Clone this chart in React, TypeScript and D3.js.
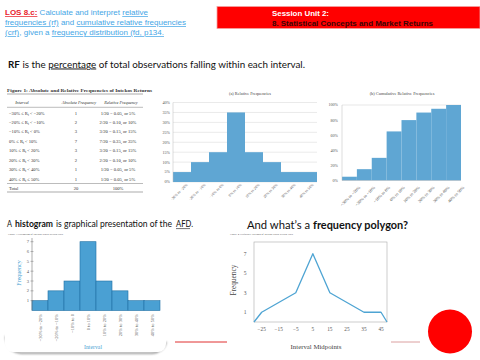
import React from "react";
import * as d3 from "d3";

const intervals = ["−30% to −20%", "−20% to −10%", "−10% to 0%", "0% to 10%", "10% to 20%", "20% to 30%", "30% to 40%", "40% to 50%"];
const histLabels = ["−30% to −20%", "−20% to −10%", "−10% to 0", "0 to 10%", "10% to 20%", "20% to 30%", "30% to 40%", "40% to 50%"];
const absFreq = [1, 2, 3, 7, 3, 2, 1, 1];
const relFreq = [5, 10, 15, 35, 15, 10, 5, 5];
const cumFreq = [5, 15, 30, 65, 80, 90, 95, 100];
const tableLower = ["−30%", "−20%", "−10%", "0%", "10%", "20%", "30%", "40%"];
const tableUpper = ["−20%", "−10%", "0%", "10%", "20%", "30%", "40%", "50%"];
const tableUpperOp = ["<", "<", "<", "<", "<", "<", "<", "≤"];
const relFreqText = ["1/20 = 0.05, or 5%", "2/20 = 0.10, or 10%", "3/20 = 0.15, or 15%", "7/20 = 0.35, or 35%", "3/20 = 0.15, or 15%", "2/20 = 0.10, or 10%", "1/20 = 0.05, or 5%", "1/20 = 0.05, or 5%"];
const relTicks = [0, 5, 10, 15, 20, 25, 30, 35, 40];
const cumTicks = [0, 20, 40, 60, 80, 100];
const histTicks = [1, 2, 3, 4, 5, 6, 7];
const midpoints = [-25, -15, -5, 5, 15, 25, 35, 45];
const polyEdges = [-29.5, 48.5];
const polyYTicks = [1, 3, 5, 7];

const SERIF = "'Liberation Serif', 'DejaVu Serif', serif";
const SANS = "'Liberation Sans', Arial, sans-serif";
const SLIDE = "Lato, 'Open Sans', sans-serif";
const LINK = "#45a6e6";

export default function App() {
  // chart (a)
  const xA = d3.scaleBand<string>().domain(intervals).range([173, 317]).padding(0);
  const yA = d3.scaleLinear().domain([0, 40]).range([182, 102.5]);
  // chart (b)
  const xB = d3.scaleBand<string>().domain(intervals).range([342, 461]).padding(0);
  const yB = d3.scaleLinear().domain([0, 100]).range([180.5, 105]);
  // histogram
  const xH = d3.scaleBand<string>().domain(histLabels).range([32, 160]).padding(0);
  const yH = d3.scaleLinear().domain([0, 7]).range([310.5, 241.7]);
  // polygon
  const xP = d3.scaleLinear().domain(polyEdges).range([254, 387]);
  const yP = d3.scaleLinear().domain([0, 8.2]).range([322, 242]);
  const polyPts: [number, number][] = [
    [polyEdges[0], 0],
    ...midpoints.map((m, i) => [m, absFreq[i]] as [number, number]),
    [polyEdges[1], 0],
  ];
  const line = d3.line<[number, number]>().x((d) => xP(d[0])).y((d) => yP(d[1]));

  const rowY = d3.scaleLinear().domain([0, 7]).range([113, 179]);

  return (
    <svg width={480} height={360} style={{ position: "absolute", left: 0, top: 0, background: "#fff" }}>
      <defs>
        <filter id="blur" x="-20%" y="-20%" width="140%" height="140%">
          <feGaussianBlur stdDeviation="1.2" />
        </filter>
      </defs>
      <rect x={0} y={0} width={480} height={360} fill="#fff" />

      {/* header left */}
      <g fontFamily={SANS} fontSize={7.3}>
        <text x={5} y={15} textLength={143} lengthAdjust="spacingAndGlyphs">
          <tspan fill="#e8202a" fontWeight="bold" textDecoration="underline">LOS 8.c:</tspan>
          <tspan fill={LINK}> Calculate and interpret </tspan>
          <tspan fill={LINK} textDecoration="underline">relative</tspan>
        </text>
        <text x={5} y={25} textLength={181} lengthAdjust="spacingAndGlyphs">
          <tspan fill={LINK} textDecoration="underline">frequencies (rf)</tspan>
          <tspan fill={LINK}> and </tspan>
          <tspan fill={LINK} textDecoration="underline">cumulative relative frequencies</tspan>
        </text>
        <text x={5} y={35} textLength={159} lengthAdjust="spacingAndGlyphs">
          <tspan fill={LINK} textDecoration="underline">(crf)</tspan>
          <tspan fill={LINK}>, given a </tspan>
          <tspan fill={LINK} textDecoration="underline">frequency distribution (fd, p134.</tspan>
        </text>
      </g>
      {/* header right */}
      <rect x={217} y={6.5} width={263} height={22} fill="#ff0000" stroke="#f4a0a0" strokeWidth={0.8} />
      <g fontFamily={SANS} fontWeight="bold" fontSize={7}>
        <text x={272} y={15.5} fill="#fff" textLength={57} lengthAdjust="spacingAndGlyphs">Session Unit 2:</text>
        <text x={272} y={25.5} fill="#3a0606" textLength={161} lengthAdjust="spacingAndGlyphs">8. Statistical Concepts and Market Returns</text>
      </g>

      {/* RF statement */}
      <text x={8} y={67.5} fontFamily={SLIDE} fontSize={9.5} fill="#111" textLength={297} lengthAdjust="spacingAndGlyphs">
        <tspan fontWeight="bold">RF</tspan>
        <tspan> is the </tspan>
        <tspan textDecoration="underline">percentage</tspan>
        <tspan> of total observations falling within each interval.</tspan>
      </text>

      {/* table */}
      <g fontFamily={SERIF} fill="#333">
        <text x={7} y={91.5} fontSize={4.9} fontWeight="bold" textLength={145} lengthAdjust="spacingAndGlyphs">Figure 1: Absolute and Relative Frequencies of Intekos Returns</text>
        <line x1={7} x2={143} y1={94} y2={94} stroke="#555" strokeWidth={0.5} />
        <g fontSize={4.3} fontStyle="italic" textAnchor="middle">
          <text x={22} y={104}>Interval</text>
          <text x={79} y={104}>Absolute Frequency</text>
          <text x={121} y={104}>Relative Frequency</text>
        </g>
        <line x1={7} x2={143} y1={107.3} y2={107.3} stroke="#555" strokeWidth={0.4} />
        {tableLower.map((lo, i) => (
          <g key={i} fontSize={4.6}>
            <text x={9} y={rowY(i) + 1.5}>
              <tspan>{lo} ≤ R</tspan>
              <tspan fontSize={3} dy={1}>t</tspan>
              <tspan dy={-1}>{` ${tableUpperOp[i]} ${tableUpper[i]}`}</tspan>
            </text>
            <text x={76} y={rowY(i) + 1.5} textAnchor="middle">{absFreq[i]}</text>
            <text x={118} y={rowY(i) + 1.5} textAnchor="middle">{relFreqText[i]}</text>
          </g>
        ))}
        <line x1={7} x2={143} y1={183.5} y2={183.5} stroke="#555" strokeWidth={0.4} />
        <g fontSize={4.6}>
          <text x={9} y={189.5}>Total</text>
          <text x={76} y={189.5} textAnchor="middle">{d3.sum(absFreq)}</text>
          <text x={118} y={189.5} textAnchor="middle">{d3.sum(relFreq)}%</text>
        </g>
        <line x1={7} x2={143} y1={192} y2={192} stroke="#555" strokeWidth={0.5} />
      </g>

      {/* chart (a) */}
      <g fontFamily={SERIF} fill="#555">
        <text x={250} y={95} fontSize={4.3} textAnchor="middle" fill="#444">(a) Relative Frequencies</text>
        {relTicks.map((t) => (
          <g key={t}>
            <line x1={173} x2={317} y1={yA(t)} y2={yA(t)} stroke="#d4d4d4" strokeWidth={0.5} />
            <text x={170} y={yA(t) + 1.4} fontSize={4.1} textAnchor="end">{t}%</text>
          </g>
        ))}
        {intervals.map((c, i) => (
          <rect key={c} x={xA(c)} y={yA(relFreq[i])} width={xA.bandwidth()} height={yA(0) - yA(relFreq[i])} fill="#5fa6d3" />
        ))}
        <line x1={173} x2={173} y1={102.5} y2={182} stroke="#bbb" strokeWidth={0.5} />
        {intervals.map((c) => (
          <text key={c} transform={`translate(${(xA(c) as number) + xA.bandwidth() / 2 + 6},${185}) rotate(-45)`} fontSize={3.8} textAnchor="end">{c}</text>
        ))}
      </g>

      {/* chart (b) */}
      <g fontFamily={SERIF} fill="#555">
        <text x={402} y={95} fontSize={4.4} textAnchor="middle" fill="#444">(b) Cumulative Relative Frequencies</text>
        {cumTicks.map((t) => (
          <text key={t} x={338} y={yB(t) + 1.4} fontSize={4.1} textAnchor="end">{t}%</text>
        ))}
        <line x1={342} x2={461} y1={yB(100)} y2={yB(100)} stroke="#ccc" strokeWidth={0.5} />
        {intervals.map((c, i) => (
          <rect key={c} x={xB(c)} y={yB(cumFreq[i])} width={xB.bandwidth()} height={yB(0) - yB(cumFreq[i])} fill="#5fa6d3" />
        ))}
        <line x1={342} x2={342} y1={105} y2={180.5} stroke="#bbb" strokeWidth={0.5} />
        <line x1={342} x2={461} y1={180.5} y2={180.5} stroke="#bbb" strokeWidth={0.5} />
        {intervals.map((c) => (
          <text key={c} transform={`translate(${(xB(c) as number) + xB.bandwidth() / 2 + 11},${188}) rotate(-45)`} fontSize={4.3} textAnchor="end">{c}</text>
        ))}
      </g>

      {/* histogram sentence */}
      <g fontFamily={SLIDE} fill="#111">
        <text x={7} y={227} fontSize={10} textLength={5} lengthAdjust="spacingAndGlyphs">A</text>
        <text x={15} y={227} fontSize={10} fontWeight="bold" textLength={38} lengthAdjust="spacingAndGlyphs">histogram</text>
        <text x={56} y={227} fontSize={9} textLength={116} lengthAdjust="spacingAndGlyphs">is graphical presentation of the</text>
        <text x={176} y={227} fontSize={9.5} textLength={17} lengthAdjust="spacingAndGlyphs">AFD.</text>
      </g>
      <line x1={176} x2={190} y1={228.6} y2={228.6} stroke="#111" strokeWidth={0.6} />

      {/* histogram card */}
      <path d="M6,336 Q7,352 22,353 L152,353 Q163,352 166,342" fill="none" stroke="#444" strokeWidth={1.6} filter="url(#blur)" opacity={0.7} />
      <rect x={5} y={230} width={161} height={122} rx={8} fill="#fff" />
      <g fontFamily={SERIF}>
        <text x={8} y={234.5} fontSize={2.6} fill="#555" textLength={55} lengthAdjust="spacingAndGlyphs">Figure 3 Histogram of Intekos Stock Return Data</text>
        {histLabels.map((c, i) => (
          <rect key={c} x={xH(c)} y={yH(absFreq[i])} width={xH.bandwidth()} height={yH(0) - yH(absFreq[i])} fill="#4aa0d3" stroke="#1f6fa3" strokeWidth={0.6} />
        ))}
        <line x1={32} x2={32} y1={238} y2={310.5} stroke="#777" strokeWidth={0.6} />
        {histTicks.map((t) => (
          <g key={t}>
            <line x1={30.5} x2={33.5} y1={yH(t)} y2={yH(t)} stroke="#777" strokeWidth={0.5} />
            <text x={29} y={yH(t) + 1.5} fontSize={4.6} textAnchor="end" fill="#555">{t}</text>
          </g>
        ))}
        {histLabels.map((c) => (
          <text key={c} transform={`translate(${(xH(c) as number) + xH.bandwidth() / 2 + 1.5},${314}) rotate(-90)`} fontSize={4.5} textAnchor="end" fill="#555">{c}</text>
        ))}
        <text transform="translate(21,273) rotate(-90)" fontSize={6} textAnchor="middle" fill="#4aa3d3">Frequency</text>
        <text x={93} y={349} fontSize={5.8} textAnchor="middle" fill="#4aa3d3">Interval</text>
      </g>

      {/* red lines */}
      <line x1={175} x2={227} y1={342} y2={342} stroke="#e03030" strokeWidth={1} />
      <line x1={391} x2={420} y1={342} y2={342} stroke="#dba0a0" strokeWidth={1} />

      {/* polygon sentence */}
      <g fontFamily={SLIDE} fontSize={12} fill="#111">
        <text x={247} y={229} textLength={63} lengthAdjust="spacingAndGlyphs">And what’s a</text>
        <text x={313} y={229} fontWeight="bold" textLength={95} lengthAdjust="spacingAndGlyphs">frequency polygon?</text>
      </g>

      {/* polygon */}
      <g fontFamily={SERIF} fill="#555">
        <text x={230} y={234.5} fontSize={2.6} textLength={63} lengthAdjust="spacingAndGlyphs">Figure 4 Frequency Polygon of Intekos Stock Return Data</text>
        <rect x={254} y={242} width={133} height={80} fill="none" stroke="#aaa" strokeWidth={0.6} />
        <path d={line(polyPts) || ""} fill="none" stroke="#4ea4d3" strokeWidth={1.3} strokeLinejoin="round" />
        {polyYTicks.map((t) => (
          <text key={t} x={245} y={yP(t) + 2} fontSize={5.5} textAnchor="middle">{t}</text>
        ))}
        {midpoints.map((m) => (
          <text key={m} x={xP(m)} y={331} fontSize={5.3} textAnchor="middle">{m < 0 ? `−${-m}` : `${m}`}</text>
        ))}
        <text transform="translate(236,280) rotate(-90)" fontSize={7.3} textAnchor="middle" fill="#444">Frequency</text>
        <text x={316} y={349} fontSize={6.8} textAnchor="middle" fill="#444">Interval Midpoints</text>
      </g>

      {/* red circle */}
      <circle cx={450} cy={331.5} r={22} fill="#ff0000" />
    </svg>
  );
}
